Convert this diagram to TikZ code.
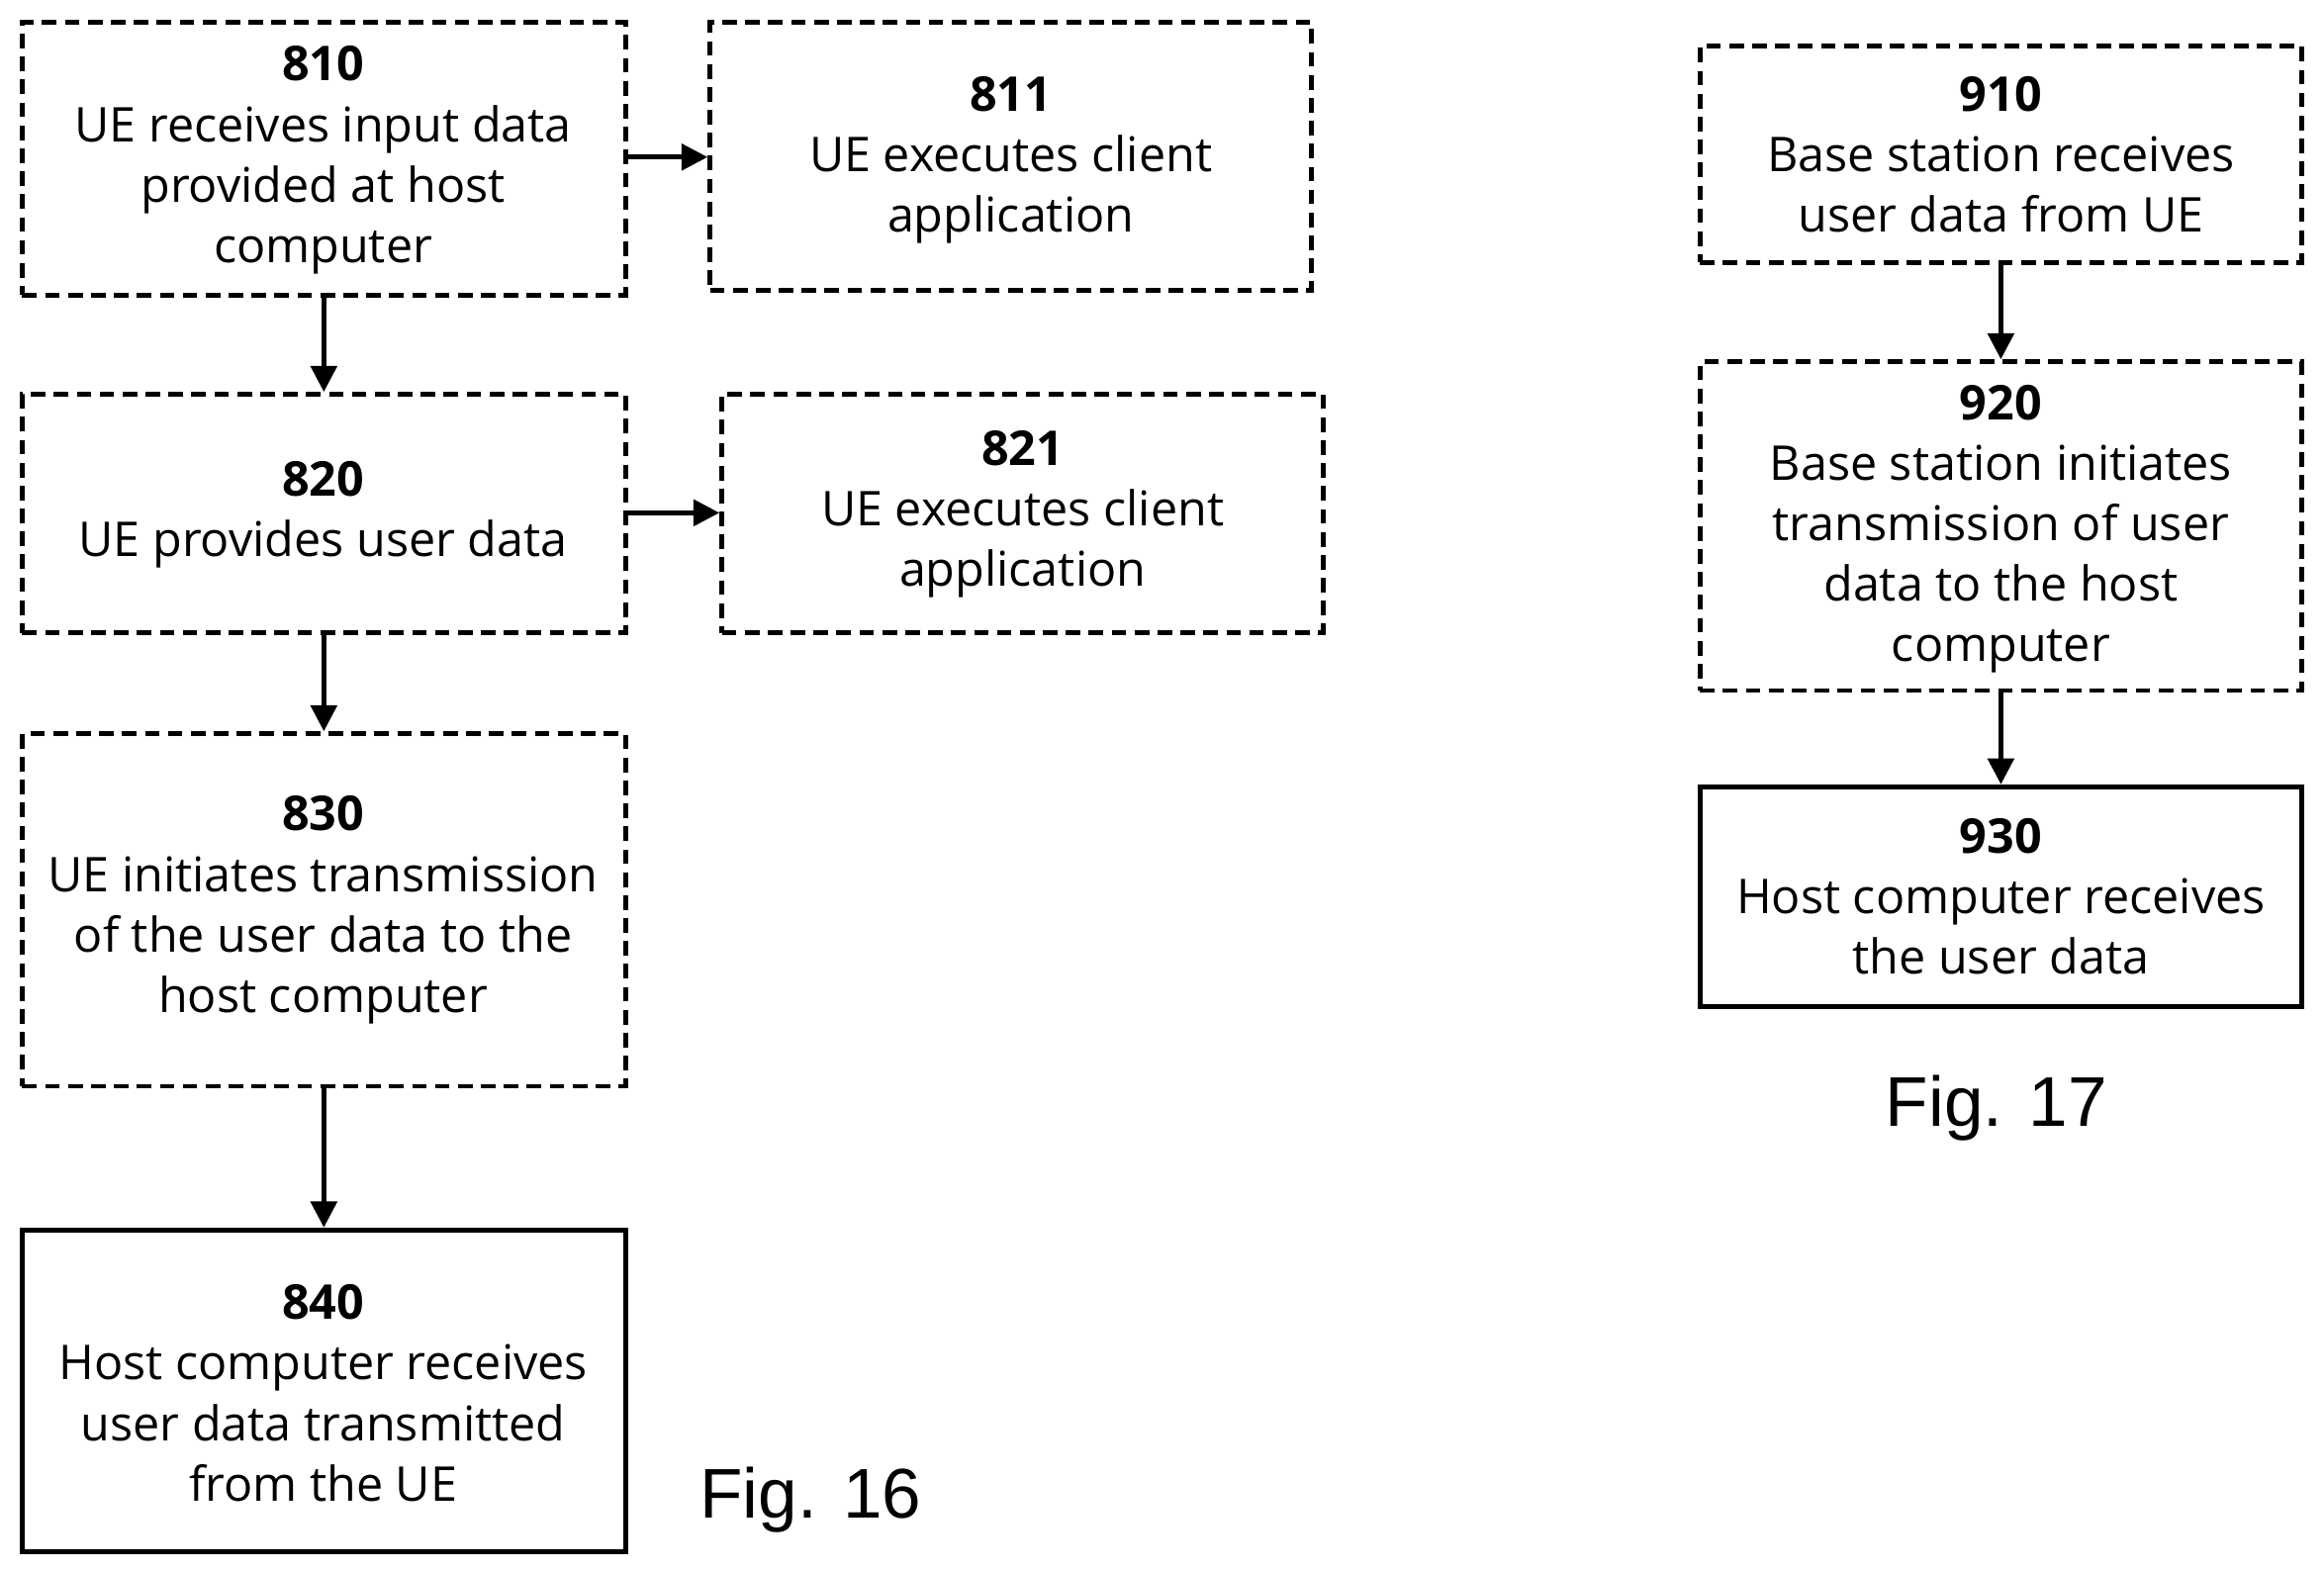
\documentclass[tikz,border=0pt]{standalone}
\usepackage{fontspec}
\setmainfont{Open Sans}
\newfontfamily\figfont{Liberation Sans}
\usetikzlibrary{arrows.meta}
\begin{document}
\begin{tikzpicture}[x=0.01cm,y=-0.01cm,
 box/.style={draw,line width=0.9pt,dash pattern=on 2.8pt off 1.6pt},
 sbox/.style={draw,line width=1pt},
 t/.style={align=center,font=\fontsize{9.2}{11.6}\selectfont},
 arr/.style={line width=0.9pt,-{Triangle[length=5pt,width=5pt]}},
 fig/.style={font=\figfont\fontsize{13.5}{15}\selectfont}]
\useasboundingbox (0,0) rectangle (1568,1060);
\newcommand{\bx}[6]{\node[#1,minimum width={(#4-#2)*0.01cm},minimum height={(#5-#3)*0.01cm},inner sep=0] (#6) at ({(#2+#4)/2},{(#3+#5)/2}) {};}
\bx{box}{15}{15}{422}{199}{b810}
\bx{box}{479}{15}{885}{196}{b811}
\bx{box}{15}{266}{422}{427}{b820}
\bx{box}{487}{266}{893}{427}{b821}
\bx{box}{15}{495}{422}{733}{b830}
\bx{sbox}{15}{830}{422}{1047}{b840}
\bx{box}{1147}{31}{1553}{177}{b910}
\bx{box}{1147}{244}{1553}{466}{b920}
\bx{sbox}{1147}{531}{1553}{679}{b930}
\node[t] (t810) at (218,108) {\textbf{810}\\UE receives input data\\provided at host\\computer};
\node[t] (t811) at (682,108) {\textbf{811}\\UE executes client\\application};
\node[t] (t820) at (218,347) {\textbf{820}\\UE provides user data};
\node[t] (t821) at (690,347) {\textbf{821}\\UE executes client\\application};
\node[t] (t830) at (218,614) {\textbf{830}\\UE initiates transmission\\of the user data to the\\host computer};
\node[t] (t840) at (218,940) {\textbf{840}\\Host computer receives\\user data transmitted\\from the UE};
\node[t] (t910) at (1350,104) {\textbf{910}\\Base station receives\\user data from UE};
\node[t] (t920) at (1350,357) {\textbf{920}\\Base station initiates\\transmission of user\\data to the host\\computer};
\node[t] (t930) at (1350,605) {\textbf{930}\\Host computer receives\\the user data};
\node[fig] (f16) at (547,1012) {Fig. 16};
\node[fig] (f17) at (1347,748) {Fig. 17};
\draw[arr] (b810) -- (b820);
\draw[arr] (b820) -- (b830);
\draw[arr] (b830) -- (b840);
\draw[arr] (b810.east |- 0,106) -- (b811.west |- 0,106);
\draw[arr] (b820.east |- 0,346) -- (b821.west |- 0,346);
\draw[arr] (b910) -- (b920);
\draw[arr] (b920) -- (b930);
\end{tikzpicture}
\end{document}
